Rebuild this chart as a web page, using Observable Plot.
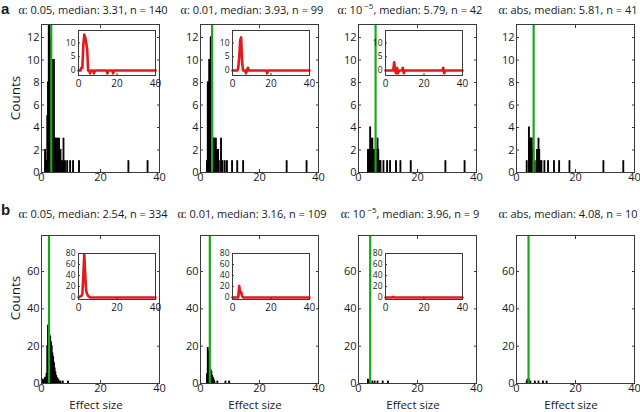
<!DOCTYPE html>
<html><head><meta charset="utf-8">
<script src="https://cdn.jsdelivr.net/npm/d3@7"></script>
<script src="https://cdn.jsdelivr.net/npm/@observablehq/plot@0.6"></script>
<style>
body{margin:0;background:#fff;}
#fig{position:relative;width:640px;height:412px;overflow:hidden;background:#fff;}
#fig svg{position:absolute;}
</style></head><body><div id="fig"></div><script>
// ---------- data ----------
const rowLetters = ["a", "b"];
const alphaLabels = ["0.05", "0.01", "10", "abs"];
const alphaSup = ["", "", "\u22125", ""];
const topMedians = [3.31, 3.93, 5.79, 5.81];
const topN = [140, 99, 42, 41];
const bottomMedians = [2.54, 3.16, 3.96, 4.08];
const bottomN = [334, 109, 9, 10];
const binWidth = 0.25;
const xTicks = [0, 20, 40];
const topYTicks = [0, 2, 4, 6, 8, 10, 12];
const bottomYTicks = [0, 20, 40, 60];
const topYMax = 13.16;
const bottomYMax = 79.3;
const insetTopYTicks = [0, 5, 10];
const insetBottomYTicks = [0, 20, 40, 60, 80];
const insetTopYDomain = [-1.8, 14.5];
const insetBottomYDomain = [-3.7, 80];

// histogram bins: [bin centre, count]
const topBins1 = [[1.375,2],[1.625,1],[1.875,1],[2.125,5],[2.375,8],[2.625,13],[2.875,13],[3.125,12],[3.375,11],[3.625,10],[3.875,10],[4.125,10],[4.375,10],[4.625,3],[4.875,3],[5.125,3],[5.375,2],[5.625,3],[5.875,2],[6.125,3],[6.375,2],[6.625,2],[7.125,1],[7.625,3],[8.125,1],[8.875,1],[9.875,1],[10.875,1],[12.875,1],[29.625,1],[36.125,1]];
const topBins2 = [[2.375,1],[2.625,8],[2.875,8],[3.125,10],[3.375,10],[3.625,12],[3.875,12],[4.125,8],[4.375,3],[4.625,3],[4.875,3],[5.125,2],[5.375,3],[5.625,2],[5.875,2],[6.125,2],[6.375,1],[7.125,3],[7.625,1],[8.375,1],[9.125,1],[10.875,1],[12.625,1],[14.625,1],[29.375,1],[36.125,1]];
const topBins3 = [[3.375,2],[3.625,2],[3.875,2],[4.125,4],[4.375,3],[4.625,2],[4.875,3],[5.125,2],[5.375,2],[5.625,2],[6.125,2],[6.625,3],[6.875,2],[7.125,1],[7.375,1],[7.625,1],[8.625,1],[9.875,1],[10.875,1],[12.875,1],[14.375,1],[17.875,1],[29.625,1],[36.125,1]];
const topBins4 = [[3.625,1],[4.375,4],[4.625,3],[4.875,3],[5.125,3],[5.375,3],[5.625,2],[5.875,2],[6.125,1],[6.875,1],[7.125,2],[7.375,2],[7.625,3],[7.875,2],[8.125,1],[8.625,1],[9.625,1],[10.875,1],[12.875,1],[14.625,1],[18.125,1],[29.625,1],[36.375,1]];
const bottomBins1 = [[0.375,1],[0.625,2],[0.875,1],[1.125,2],[1.375,3],[1.625,3],[1.875,5],[2.125,20],[2.375,31],[2.625,28],[2.875,26],[3.125,25],[3.375,22],[3.625,20],[3.875,16],[4.125,14],[4.375,11],[4.625,8],[4.875,6],[5.125,4],[5.375,3],[5.625,2],[5.875,2],[6.125,1],[6.625,1],[7.375,1],[9.125,1]];
const bottomBins2 = [[2.375,5],[2.625,19],[2.875,17],[3.125,10],[3.375,8],[3.625,7],[3.875,6],[4.125,4],[4.375,3],[4.625,2],[4.875,1],[5.875,1],[8.625,1],[9.875,1]];
const bottomBins3 = [[3.375,2],[3.875,1],[4.125,1],[4.875,1],[5.625,1],[6.625,1],[8.375,1],[10.125,1]];
const bottomBins4 = [[3.625,1],[3.875,2],[4.375,2],[4.875,1],[6.375,1],[7.625,1],[9.125,1],[10.375,1]];

// inset curves: [effect size, count difference]
const topInset1 = [[0,0],[1,0],[1.5,1],[2,1],[2.5,9],[3,13],[3.5,12],[4,10],[4.5,8],[5,0],[5.5,0],[6,-1],[6.5,0],[7.5,0],[8,-1],[8.5,0],[14.5,0],[15,-1],[15.5,0],[17.5,0],[18,-1],[18.5,0],[40,0]];
const topInset2 = [[0,0],[2.5,0],[3,1],[3.5,5],[4,11],[4.5,12],[5,3],[5.5,0],[6.5,0],[7,-1],[7.5,0],[8,1],[8.5,0],[17.5,0],[18,-1],[18.5,0],[40,0]];
const topInset3 = [[0,0],[4,0],[4.5,3],[5,0],[5.5,-1],[6,1],[6.5,-1],[7,0],[8.5,0],[9,1],[9.5,-1],[10,0],[29.5,0],[30,1],[30.5,-1],[31,0],[40,0]];
const bottomInset1 = [[0,0],[0.5,1],[1,2],[1.5,3],[2,5],[2.5,40],[3,78],[3.5,40],[4,12],[4.5,6],[5,3],[5.5,1],[6,0],[40,0]];
const bottomInset2 = [[0,0],[3,0],[3.5,21],[4,8],[4.5,10],[5,3],[5.5,0],[40,0]];
const bottomInset3 = [[0,0],[3.5,0],[4,1],[4.5,0],[40,0]];

// ---------- layout / style ----------
const FONT = "'Open Sans', sans-serif";
const GREEN = "#19a819", RED = "#e3191c", FRAME = "#3a3a3a";
const frameLefts = [41, 200, 358, 516];
const rowTops = [24, 235];
const FW = 118, FH = 148;
const insetLefts = [78, 232, 385];
const insetTops = [30, 253];
const IW = 77, IH = [45, 46];

const fig = document.getElementById("fig");

function mainPlot(bins, median, yMax, yTicks, fx, fy) {
  const mL = 34, mR = 8, mT = 6, mB = 20;
  const data = bins.map(([x, c]) => ({x, c}));
  const svg = Plot.plot({
    width: FW + mL + mR, height: FH + mT + mB,
    marginLeft: mL, marginRight: mR, marginTop: mT, marginBottom: mB,
    style: {fontFamily: FONT, fontSize: "11px", color: "#1a1a1a", background: "none", overflow: "visible"},
    x: {domain: [0, 40]},
    y: {domain: [0, yMax]},
    marks: [
      Plot.rectY(data, {x1: d => d.x - binWidth / 2, x2: d => d.x + binWidth / 2, y1: 0, y2: "c", fill: "black", stroke: "black", strokeWidth: 1.1}),
      Plot.ruleX([median], {stroke: GREEN, strokeWidth: 2.2}),
      Plot.frame({stroke: FRAME}),
      Plot.axisX({ticks: xTicks, tickSize: -3, tickPadding: 4, label: null, stroke: FRAME}),
      Plot.axisX({anchor: "top", ticks: xTicks, tickSize: -3, tickFormat: () => "", label: null, stroke: FRAME}),
      Plot.axisY({ticks: yTicks, tickSize: -3, tickPadding: 5, label: null, stroke: FRAME}),
      Plot.axisY({anchor: "right", ticks: yTicks, tickSize: -3, tickFormat: () => "", label: null, stroke: FRAME})
    ]
  });
  svg.style.left = (fx - mL) + "px";
  svg.style.top = (fy - mT) + "px";
  fig.appendChild(svg);
}

function insetPlot(pts, yDomain, yTicks, fx, fy, h) {
  const mL = 30, mR = 8, mT = 6, mB = 18;
  const svg = Plot.plot({
    width: IW + mL + mR, height: h + mT + mB,
    marginLeft: mL, marginRight: mR, marginTop: mT, marginBottom: mB,
    style: {fontFamily: FONT, fontSize: "8.5px", color: "#1a1a1a", background: "none", overflow: "visible"},
    x: {domain: [0, 40]},
    y: {domain: yDomain},
    marks: [
      Plot.frame({fill: "white", stroke: "none"}),
      Plot.line(pts, {x: d => d[0], y: d => d[1], stroke: RED, strokeWidth: 2.6, strokeLinejoin: "round"}),
      Plot.frame({stroke: FRAME}),
      Plot.axisX({ticks: xTicks, tickSize: -2, tickPadding: 6, label: null, stroke: FRAME, fontSize: 10}),
      Plot.axisY({ticks: yTicks, tickSize: -2, tickPadding: 5, label: null, stroke: FRAME})
    ]
  });
  svg.style.left = (fx - mL) + "px";
  svg.style.top = (fy - mT) + "px";
  fig.appendChild(svg);
}

const topBins = [topBins1, topBins2, topBins3, topBins4];
const bottomBins = [bottomBins1, bottomBins2, bottomBins3, bottomBins4];
const topInsets = [topInset1, topInset2, topInset3];
const bottomInsets = [bottomInset1, bottomInset2, bottomInset3];

for (let i = 0; i < 4; i++) {
  mainPlot(topBins[i], topMedians[i], topYMax, topYTicks, frameLefts[i], rowTops[0]);
  mainPlot(bottomBins[i], bottomMedians[i], bottomYMax, bottomYTicks, frameLefts[i], rowTops[1]);
}
for (let i = 0; i < 3; i++) {
  insetPlot(topInsets[i], insetTopYDomain, insetTopYTicks, insetLefts[i], insetTops[0], IH[0]);
  insetPlot(bottomInsets[i], insetBottomYDomain, insetBottomYTicks, insetLefts[i], insetTops[1], IH[1]);
}

// ---------- text overlay ----------
const ov = d3.select(fig).append("svg").attr("width", 640).attr("height", 412)
  .style("left", "0px").style("top", "0px")
  .attr("font-family", FONT).attr("fill", "#1a1a1a");

const titleBaselines = [13.5, 218];
const rows = [{med: topMedians, n: topN}, {med: bottomMedians, n: bottomN}];
rows.forEach((r, ri) => {
  ov.append("text").attr("x", 1).attr("y", titleBaselines[ri] + (ri ? -3 : 0))
    .attr("font-family", "'Liberation Sans', Arial, sans-serif")
    .attr("font-weight", "bold").attr("font-size", 15).text(rowLetters[ri]);
  for (let i = 0; i < 4; i++) {
    const cx = frameLefts[i] + FW / 2 - 7;
    const t = ov.append("text").attr("x", cx).attr("y", titleBaselines[ri])
      .attr("text-anchor", "middle").attr("font-size", 11);
    t.append("tspan").attr("font-family", "'Liberation Serif', serif").attr("font-size", 12).text("\u03b1");
    t.append("tspan").text(": " + alphaLabels[i]);
    let rest = ", median: " + r.med[i].toFixed(2) + ", n = " + r.n[i];
    if (alphaSup[i]) {
      t.append("tspan").attr("dy", -5).attr("font-size", 8).text(" " + alphaSup[i]);
      t.append("tspan").attr("dy", 5).text(rest);
    } else {
      t.append("tspan").text(rest);
    }
  }
});

[98, 298].forEach(cy => {
  ov.append("text").attr("transform", `translate(19.5,${cy}) rotate(-90)`)
    .attr("text-anchor", "middle").attr("font-size", 13.5).text("Counts");
});
for (let i = 0; i < 4; i++) {
  ov.append("text").attr("x", frameLefts[i] + FW / 2 - 4).attr("y", 408.5)
    .attr("text-anchor", "middle").attr("font-size", 11.5).text("Effect size");
}
</script></body></html>
